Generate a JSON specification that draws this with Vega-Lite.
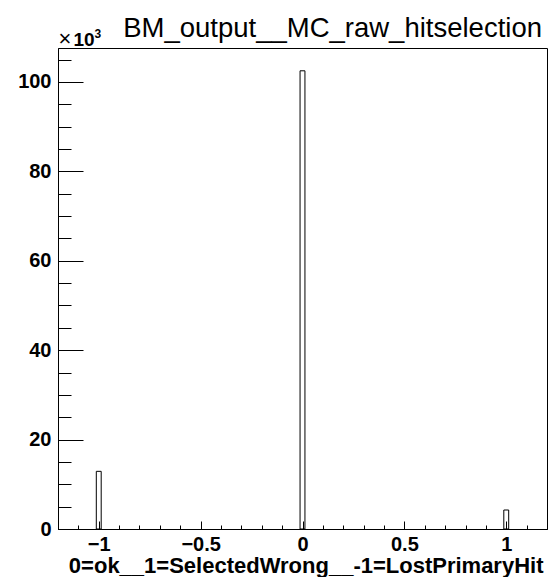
{
  "$schema": "https://vega.github.io/schema/vega-lite/v6.json",
  "width": 489,
  "height": 481,
  "autosize": {"type": "none"},
  "padding": {"left": 58, "top": 48, "right": 3, "bottom": 48},
  "background": "white",
  "title": {
    "text": "BM_output__MC_raw_hitselection",
    "anchor": "end",
    "frame": "group",
    "font": "Liberation Sans",
    "fontSize": 27.5,
    "fontWeight": "normal",
    "color": "black",
    "baseline": "alphabetic",
    "offset": -14,
    "dx": -5,
    "dy": 23
  },
  "config": {
    "view": {"stroke": "black", "strokeWidth": 1},
    "axis": {
      "grid": false,
      "domainColor": "black",
      "tickColor": "black",
      "labelColor": "black",
      "titleColor": "black",
      "labelFont": "Liberation Sans",
      "titleFont": "Liberation Sans"
    }
  },
  "data": {
    "values": [
      {"bin_start": -1.012, "bin_end": -0.988, "entries": 12900},
      {"bin_start": -0.012, "bin_end": 0.012, "entries": 102500},
      {"bin_start": 0.988, "bin_end": 1.012, "entries": 4250}
    ]
  },
  "resolve": {"axis": {"x": "independent", "y": "independent"}},
  "layer": [
    {
      "mark": {"type": "bar", "fillOpacity": 0, "stroke": "black", "strokeWidth": 1},
      "encoding": {
        "x": {
          "field": "bin_start",
          "type": "quantitative",
          "scale": {"domain": [-1.2, 1.2], "nice": false, "zero": false},
          "axis": {
            "orient": "bottom",
            "values": [-1, -0.5, 0, 0.5, 1],
            "format": "~g",
            "tickSize": -8,
            "labelPadding": 29,
            "labelBaseline": "alphabetic",
            "labelFontSize": 20,
            "labelFontWeight": "bold",
            "labelFlush": false,
            "title": "0=ok__1=SelectedWrong__-1=LostPrimaryHit",
            "titleFontSize": 22,
            "titleFontWeight": "bold",
            "titleAnchor": "end",
            "titleAlign": "right",
            "titleBaseline": "alphabetic",
            "titleX": 485,
            "titleY": 43
          }
        },
        "x2": {"field": "bin_end"},
        "y": {
          "field": "entries",
          "type": "quantitative",
          "scale": {"domain": [0, 107600], "nice": false},
          "axis": {
            "orient": "left",
            "values": [0, 20000, 40000, 60000, 80000, 100000],
            "labelExpr": "datum.value / 1000",
            "tickSize": -25,
            "labelPadding": 32,
            "labelFontSize": 20,
            "labelFontWeight": "bold",
            "labelFlush": false,
            "title": "10",
            "titleAngle": 0,
            "titleAlign": "left",
            "titleBaseline": "alphabetic",
            "titleX": 15,
            "titleY": -3,
            "titleFontSize": 19,
            "titleFontWeight": "bold"
          }
        },
        "y2": {"datum": 0}
      }
    },
    {
      "mark": {"type": "bar", "fillOpacity": 0, "strokeOpacity": 0},
      "encoding": {
        "x": {
          "field": "bin_start",
          "type": "quantitative",
          "axis": {
            "orient": "bottom",
            "values": [-1.2, -1.1, -1, -0.9, -0.8, -0.7, -0.6, -0.5, -0.4, -0.3, -0.2, -0.1, 0, 0.1, 0.2, 0.3, 0.4, 0.5, 0.6, 0.7, 0.8, 0.9, 1, 1.1, 1.2],
            "tickSize": -4,
            "labels": false,
            "domain": false,
            "title": null
          }
        },
        "x2": {"field": "bin_end"},
        "y": {
          "field": "entries",
          "type": "quantitative",
          "axis": {
            "orient": "left",
            "values": [0, 5000, 10000, 15000, 20000, 25000, 30000, 35000, 40000, 45000, 50000, 55000, 60000, 65000, 70000, 75000, 80000, 85000, 90000, 95000, 100000, 105000],
            "tickSize": -13,
            "labels": false,
            "domain": false,
            "title": "×",
            "titleAngle": 0,
            "titleAlign": "left",
            "titleBaseline": "alphabetic",
            "titleX": 0,
            "titleY": -3,
            "titleFontSize": 22,
            "titleFontWeight": "normal"
          }
        },
        "y2": {"datum": 0}
      }
    },
    {
      "mark": {"type": "bar", "fillOpacity": 0, "strokeOpacity": 0},
      "encoding": {
        "x": {"field": "bin_start", "type": "quantitative", "axis": null},
        "x2": {"field": "bin_end"},
        "y": {
          "field": "entries",
          "type": "quantitative",
          "axis": {
            "orient": "left",
            "ticks": false,
            "labels": false,
            "domain": false,
            "title": "3",
            "titleAngle": 0,
            "titleAlign": "left",
            "titleBaseline": "alphabetic",
            "titleX": 36,
            "titleY": -11,
            "titleFontSize": 12,
            "titleFontWeight": "bold"
          }
        },
        "y2": {"datum": 0}
      }
    }
  ]
}
